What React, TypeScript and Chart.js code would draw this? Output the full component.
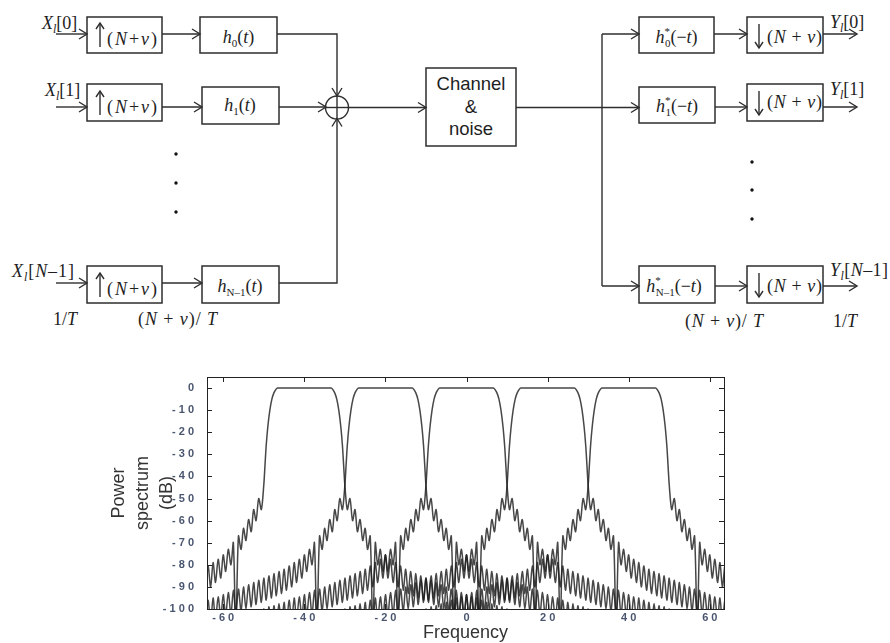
import React, { useEffect, useRef } from "react";
import { Chart, registerables } from "chart.js";
Chart.register(...registerables);

// ---------- chart data ----------
const FILTER_CENTERS = [-40, -20, 0, 20, 40];
// main lobe (offset from centre, dB), one side
const MAIN_LOBE_OFFSETS = [0, 6.6, 7.0, 7.5, 8.0, 8.5, 9.0, 9.4, 9.7];
const MAIN_LOBE_DB = [0, 0, -0.6, -2.2, -5, -10, -17.5, -26, -35];
// side-lobe peaks (offset from centre, dB), one side
const SIDELOBE_PEAK_OFFSETS = [
  10, 11.25, 12.5, 13.75, 15, 16.25, 17.5, 18.75, 20, 21.25, 22.5, 23.75, 25,
  26.25, 27.5, 28.75, 30, 31.25, 32.5, 33.75, 35, 36.25, 37.5, 38.75, 40, 41.25,
  42.5, 43.75, 45, 46.25, 47.5, 48.75, 50, 51.25, 52.5, 53.75, 55,
];
const SIDELOBE_PEAK_DB = [
  -44, -50, -55, -59.5, -63.5, -67, -70, -73, -75.5, -77.5, -79, -80.5, -82,
  -83, -84, -85, -86, -87, -88, -89, -90, -91, -91.5, -92.5, -93.5, -94.5, -95,
  -96, -97, -97.5, -98.5, -99, -100, -100.5, -101, -102, -102.5,
];
// side-lobe nulls (offset from centre, dB), one side
const SIDELOBE_NULL_OFFSETS = [
  10.6, 11.9, 13.1, 14.4, 15.6, 16.9, 18.1, 19.4, 20.6, 21.9, 23.1, 24.4, 25.6,
  26.9, 28.1, 29.4, 30.6, 31.9, 33.1, 34.4, 35.6, 36.9, 38.1, 39.4, 40.6, 41.9,
  43.1, 44.4, 45.6, 46.9, 48.1, 49.4, 50.6, 51.9, 53.1, 54.4,
];
const SIDELOBE_NULL_DB = [
  -55, -60, -65, -69, -73, -110, -80, -83, -86, -88, -90, -91.5, -93, -94, -95,
  -96, -97, -98, -99, -100, -101, -102, -102.5, -103, -104, -105, -106, -107,
  -108, -108, -109, -110, -111, -112, -112, -113,
];
const X_TICKS = [-60, -40, -20, 0, 20, 40, 60];
const Y_TICKS = [0, -10, -20, -30, -40, -50, -60, -70, -80, -90, -100];

function spaced(v: number) {
  return String(v).split("").join(" ");
}

function buildSeries(center: number) {
  const pos: [number, number][] = [];
  MAIN_LOBE_OFFSETS.forEach((u, i) => pos.push([u, MAIN_LOBE_DB[i]]));
  const side: [number, number][] = [];
  SIDELOBE_PEAK_OFFSETS.forEach((u, i) => side.push([u, SIDELOBE_PEAK_DB[i]]));
  SIDELOBE_NULL_OFFSETS.forEach((u, i) => side.push([u, SIDELOBE_NULL_DB[i]]));
  side.sort((a, b) => a[0] - b[0]);
  const right = [...pos, ...side];
  const left = right
    .filter((p) => p[0] > 0)
    .map((p) => [-p[0], p[1]] as [number, number])
    .reverse();
  return [...left, ...right].map(([u, db]) => ({ x: center + u, y: db }));
}

const framePlugin = {
  id: "frame",
  afterDraw(chart: any) {
    const { ctx, chartArea, scales } = chart;
    const { left, right, top, bottom } = chartArea;
    const x = scales.x;
    const y = scales.y;
    ctx.save();
    ctx.strokeStyle = "#222";
    ctx.lineWidth = 1;
    const L = (a: number, b: number, c: number, d: number) => {
      ctx.beginPath();
      ctx.moveTo(a, b);
      ctx.lineTo(c, d);
      ctx.stroke();
    };
    ctx.strokeRect(Math.round(left) + 0.5, Math.round(top) + 0.5, Math.round(right - left), Math.round(bottom - top));
    X_TICKS.forEach((v) => {
      const px = Math.round(x.getPixelForValue(v)) + 0.5;
      L(px, top, px, top + 5);
      L(px, bottom, px, bottom - 5);
    });
    Y_TICKS.forEach((v) => {
      const py = Math.round(y.getPixelForValue(v)) + 0.5;
      L(left, py, left + 5, py);
      L(right, py, right - 5, py);
    });
    ctx.restore();
  },
};

// ---------- block diagram helpers ----------
const STROKE = "#2e2e2e";
const SERIF = "'Liberation Serif', 'Times New Roman', serif";
const SANS = "'Liberation Sans', Arial, sans-serif";

function head(x1: number, y1: number, x2: number, y2: number, len = 8, hw = 5) {
  const dx = x2 - x1;
  const dy = y2 - y1;
  const n = Math.hypot(dx, dy) || 1;
  const ux = dx / n;
  const uy = dy / n;
  const px = -uy;
  const py = ux;
  return `${x2 - ux * len + px * hw},${y2 - uy * len + py * hw} ${x2},${y2} ${x2 - ux * len - px * hw},${y2 - uy * len - py * hw}`;
}

function Conn({ pts, arrow = true, len = 8, hw = 5 }: { pts: number[][]; arrow?: boolean; len?: number; hw?: number }) {
  const a = pts[pts.length - 2];
  const b = pts[pts.length - 1];
  return (
    <g stroke={STROKE} strokeWidth={1.4} fill="none">
      <polyline points={pts.map((p) => p.join(",")).join(" ")} />
      {arrow && <polyline points={head(a[0], a[1], b[0], b[1], len, hw)} />}
    </g>
  );
}

function Box({ x, y, w, h }: { x: number; y: number; w: number; h: number }) {
  return <rect x={x} y={y} width={w} height={h} fill="none" stroke={STROKE} strokeWidth={1.5} />;
}

function Up({ x, y }: { x: number; y: number }) {
  return <Conn pts={[[x, y], [x, y - 24]]} len={6} hw={4} />;
}
function Down({ x, y }: { x: number; y: number }) {
  return <Conn pts={[[x, y], [x, y + 24]]} len={6} hw={4} />;
}

const T = { fill: "#1e1e1e", fontFamily: SERIF, fontSize: 18 } as const;

function NV({ x, y, spacedOut = false, w }: { x: number; y: number; spacedOut?: boolean; w: number }) {
  return (
    <text x={x} y={y} {...T} textLength={w} lengthAdjust="spacing">
      (<tspan fontStyle="italic">N</tspan>
      {spacedOut ? " + " : "+"}
      <tspan fontStyle="italic">v</tspan>)
    </text>
  );
}

function Hfilt({ cx, y, sub, conj }: { cx: number; y: number; sub: string; conj: boolean }) {
  return (
    <text x={cx} y={y} {...T} textAnchor="middle">
      <tspan fontStyle="italic">h</tspan>
      {conj ? (
        <>
          <tspan fontSize={11} dy={-8}>*</tspan>
          <tspan fontSize={11} dx={-5} dy={12}>{sub}</tspan>
          <tspan dy={-4}>(−</tspan>
        </>
      ) : (
        <>
          <tspan fontSize={11} dy={4}>{sub}</tspan>
          <tspan dy={-4}>(</tspan>
        </>
      )}
      <tspan fontStyle="italic">t</tspan>)
    </text>
  );
}

function SigLabel({ x, y, letter, idx, w }: { x: number; y: number; letter: string; idx: string; w?: number }) {
  return (
    <text x={x} y={y} {...T} textLength={w} lengthAdjust={w ? "spacing" : undefined}>
      <tspan fontStyle="italic">{letter}</tspan>
      <tspan fontStyle="italic" fontSize={12} dy={4}>l</tspan>
      <tspan dy={-4}>[{idx}]</tspan>
    </text>
  );
}

function Diagram() {
  return (
    <svg width={890} height={360} style={{ position: "absolute", left: 0, top: 0 }}>
      {/* left side */}
      <SigLabel x={42} y={29} letter="X" idx="0" />
      <SigLabel x={45} y={96} letter="X" idx="1" />
      <text x={12} y={277} {...T} textLength={62} lengthAdjust="spacing">
        <tspan fontStyle="italic">X</tspan>
        <tspan fontStyle="italic" fontSize={12} dy={4}>l</tspan>
        <tspan dy={-4}>[</tspan>
        <tspan fontStyle="italic">N</tspan>–1]
      </text>

      <Box x={87} y={17} w={75} h={36} />
      <Box x={200} y={17} w={77} h={36} />
      <Box x={87} y={84} w={75} h={37} />
      <Box x={202} y={87} w={77} h={37} />
      <Box x={87} y={266} w={75} h={37} />
      <Box x={202} y={266} w={77} h={37} />

      <Up x={100} y={47} />
      <Up x={100} y={115} />
      <Up x={100} y={297} />
      <NV x={107} y={45} w={50} />
      <NV x={107} y={113} w={50} />
      <NV x={107} y={295} w={50} />

      <Hfilt cx={238.5} y={43} sub="0" conj={false} />
      <Hfilt cx={240} y={111} sub="1" conj={false} />
      <Hfilt cx={240} y={292} sub="N–1" conj={false} />

      <Conn pts={[[56, 34], [87, 34]]} />
      <Conn pts={[[162, 34], [200, 34]]} />
      <Conn pts={[[277, 34], [337, 34], [337, 96]]} />
      <Conn pts={[[56, 107], [87, 107]]} />
      <Conn pts={[[162, 107], [202, 107]]} />
      <Conn pts={[[279, 107], [326, 107]]} />
      <Conn pts={[[56, 283], [87, 283]]} />
      <Conn pts={[[162, 283], [202, 283]]} />
      <Conn pts={[[279, 283], [337, 283], [337, 118.5]]} />

      <g stroke={STROKE} strokeWidth={1.4} fill="none">
        <circle cx={337} cy={107.5} r={11.5} />
        <line x1={325.5} y1={107.5} x2={348.5} y2={107.5} />
        <line x1={337} y1={96} x2={337} y2={119} />
      </g>
      <Conn pts={[[348.5, 107.5], [426, 107.5]]} />

      {[154, 183, 212].map((y) => (
        <circle key={y} cx={176} cy={y} r={1.7} fill="#111" />
      ))}

      <text x={53} y={325} {...T}>
        1/<tspan fontStyle="italic">T</tspan>
      </text>
      <text x={138} y={325} {...T} textLength={79} lengthAdjust="spacing">
        (<tspan fontStyle="italic">N</tspan> + <tspan fontStyle="italic">v</tspan>)/ <tspan fontStyle="italic">T</tspan>
      </text>

      {/* channel */}
      <Box x={426} y={68} w={90} h={78} />
      <g fill="#1e1e1e" fontFamily={SANS} fontSize={18.5} textAnchor="middle">
        <text x={471} y={90}>Channel</text>
        <text x={471} y={113}>&amp;</text>
        <text x={471} y={135}>noise</text>
      </g>

      {/* right side */}
      <Conn pts={[[516, 107.5], [639, 107.5]]} />
      <Conn pts={[[602, 34], [602, 286]]} arrow={false} />
      <Conn pts={[[602, 34], [639, 34]]} />
      <Conn pts={[[602, 286], [639, 286]]} />

      <Box x={639} y={17} w={75} h={36} />
      <Box x={747} y={17} w={76} h={36} />
      <Box x={639} y={87} w={76} h={36} />
      <Box x={747} y={84} w={76} h={37} />
      <Box x={639} y={266} w={76} h={37} />
      <Box x={747} y={266} w={76} h={37} />

      <Hfilt cx={676.5} y={43} sub="0" conj={true} />
      <Hfilt cx={677} y={112} sub="1" conj={true} />
      <Hfilt cx={674} y={292} sub="N–1" conj={true} />

      <Down x={759} y={24} />
      <Down x={759} y={91} />
      <Down x={759} y={273} />
      <NV x={767} y={43} w={55} spacedOut />
      <NV x={767} y={108} w={55} spacedOut />
      <NV x={767} y={292} w={55} spacedOut />

      <Conn pts={[[714, 34], [747, 34]]} />
      <Conn pts={[[715, 107], [747, 107]]} />
      <Conn pts={[[715, 286], [747, 286]]} />
      <Conn pts={[[823, 34], [857, 34]]} />
      <Conn pts={[[823, 107], [857, 107]]} />
      <Conn pts={[[823, 286], [857, 286]]} />

      <SigLabel x={830} y={28} letter="Y" idx="0" />
      <SigLabel x={830} y={95} letter="Y" idx="1" />
      <text x={830} y={276} {...T} textLength={58} lengthAdjust="spacing">
        <tspan fontStyle="italic">Y</tspan>
        <tspan fontStyle="italic" fontSize={12} dy={4}>l</tspan>
        <tspan dy={-4}>[</tspan>
        <tspan fontStyle="italic">N</tspan>–1]
      </text>

      {[162, 190, 219].map((y) => (
        <circle key={y} cx={752} cy={y} r={1.7} fill="#111" />
      ))}

      <text x={685} y={327} {...T} textLength={78} lengthAdjust="spacing">
        (<tspan fontStyle="italic">N</tspan> + <tspan fontStyle="italic">v</tspan>)/ <tspan fontStyle="italic">T</tspan>
      </text>
      <text x={833} y={327} {...T}>
        1/<tspan fontStyle="italic">T</tspan>
      </text>
    </svg>
  );
}

export default function App() {
  const ref = useRef<HTMLCanvasElement>(null);
  useEffect(() => {
    if (!ref.current) return;
    const tickFont = { family: SANS, size: 11, weight: "bold" as const };
    const chart = new Chart(ref.current, {
      type: "line",
      data: {
        datasets: FILTER_CENTERS.map((c) => ({
          label: `f${c}`,
          data: buildSeries(c),
          borderColor: "rgba(30,30,30,0.82)",
          borderWidth: 1.5,
          pointRadius: 0,
          tension: 0.3,
          fill: false,
        })),
      },
      options: {
        responsive: false,
        animation: false,
        devicePixelRatio: 1,
        events: [],
        layout: { padding: { top: 17, right: 166, left: 0, bottom: 0 } },
        plugins: { legend: { display: false }, tooltip: { enabled: false } },
        scales: {
          x: {
            type: "linear",
            min: -64,
            max: 63.5,
            grid: { display: false },
            border: { display: false },
            afterBuildTicks: (s: any) => {
              s.ticks = X_TICKS.map((v) => ({ value: v }));
            },
            afterFit: (s: any) => {
              s.height = 34;
            },
            ticks: {
              padding: -6,
              maxRotation: 0,
              autoSkip: false,
              color: "#4a5670",
              font: tickFont,
              callback: (v: any) => spaced(Number(v)),
            },
            title: {
              display: true,
              text: "Frequency",
              color: "#333",
              font: { family: SANS, size: 18, lineHeight: 1.2 },
              padding: { top: 0, bottom: -1 },
            },
          },
          y: {
            type: "linear",
            min: -100,
            max: 5,
            grid: { display: false },
            border: { display: false },
            afterBuildTicks: (s: any) => {
              s.ticks = Y_TICKS.map((v) => ({ value: v }));
            },
            afterFit: (s: any) => {
              s.width = 207;
            },
            ticks: {
              padding: 5,
              autoSkip: false,
              color: "#4a5670",
              font: tickFont,
              callback: (v: any) => spaced(Number(v)),
            },
            title: {
              display: true,
              text: ["Power", "spectrum", "(dB)"],
              color: "#333",
              font: { family: SANS, size: 18, lineHeight: 1.3333 },
              padding: { top: 107, bottom: 0 },
            },
          },
        },
      },
      plugins: [framePlugin],
    });
    return () => chart.destroy();
  }, []);
  return (
    <div style={{ position: "absolute", left: 0, top: 0, width: 890, height: 643, background: "#fff", overflow: "hidden" }}>
      <Diagram />
      <canvas ref={ref} width={890} height={283} style={{ position: "absolute", left: 0, top: 360, width: 890, height: 283 }} />
    </div>
  );
}
